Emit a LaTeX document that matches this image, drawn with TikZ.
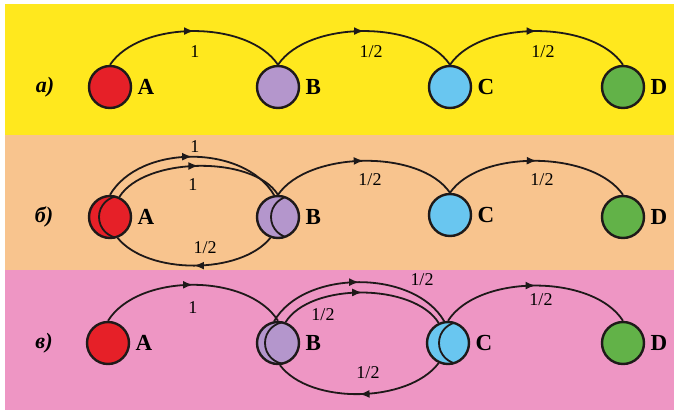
\documentclass[tikz,border=0pt]{standalone}
\usepackage{fontspec}
\setmainfont{Liberation Serif}
\usetikzlibrary{positioning, decorations.markings, arrows.meta}
\definecolor{bandyellow}{RGB}{255,232,30}
\definecolor{bandorange}{RGB}{248,196,142}
\definecolor{bandpink}{RGB}{238,150,196}
\definecolor{colA}{RGB}{230,32,40}
\definecolor{colB}{RGB}{180,150,204}
\definecolor{colC}{RGB}{105,198,240}
\definecolor{colD}{RGB}{98,178,72}
\definecolor{ink}{RGB}{30,25,25}

\begin{document}
\begin{tikzpicture}[x=0.5pt, y=-0.5pt,
    statenode/.style={circle, draw=ink, line width=1.2pt, minimum size=21pt, inner sep=0pt},
    letter/.style={font=\fontsize{11.5}{12}\selectfont\bfseries, inner sep=1pt},
    flow/.style={draw=ink, line width=0.9pt, postaction={decorate},
        decoration={markings, mark=at position 0.5 with {\arrow{Latex[length=5pt,width=4pt]}}}},
    prob/.style={font=\fontsize{9}{10}\selectfont, inner sep=1pt},
    rowlab/.style={font=\fontsize{11}{12}\selectfont\bfseries\itshape, inner sep=1pt}]
    \useasboundingbox (0,0) rectangle (677,414);
    % bands
    \fill[bandyellow] (5,4) rectangle (674,135);
    \fill[bandorange] (5,135) rectangle (674,270);
    \fill[bandpink] (5,270) rectangle (674,410);

    % row a
    \node[rowlab] (ra) at (45,87) {а)};
    \node[statenode, fill=colA] (A1) at (110,87) {};
    \node[statenode, fill=colB] (B1) at (278,87) {};
    \node[statenode, fill=colC] (C1) at (450,87) {};
    \node[statenode, fill=colD] (D1) at (623,87) {};
    \node[letter, right=1.5pt of A1] (lA1) {A};
    \node[letter, right=1.5pt of B1] (lB1) {B};
    \node[letter, right=1.5pt of C1] (lC1) {C};
    \node[letter, right=1.5pt of D1] (lD1) {D};
    \draw[flow] (A1.north) .. controls +(30,-45) and +(-30,-45) .. (B1.north);
    \draw[flow] (B1.north) .. controls +(30,-45) and +(-30,-45) .. (C1.north);
    \draw[flow] (C1.north) .. controls +(30,-45) and +(-30,-45) .. (D1.north);
    \node[prob] (p1) at (195,52) {1};
    \node[prob] (p2) at (371,52) {1/2};
    \node[prob] (p3) at (543,52) {1/2};

    % row b
    \node[rowlab] (rb) at (44,217) {б)};
    \node[statenode, fill=colA] (A2) at (110,217) {};
    \node[statenode, fill=colB] (B2) at (278,217) {};
    \node[statenode, fill=colC] (C2) at (450,215) {};
    \node[statenode, fill=colD] (D2) at (623,217) {};
    \node[letter, right=1.5pt of A2] (lA2) {A};
    \node[letter, right=1.5pt of B2] (lB2) {B};
    \node[letter, right=1.5pt of C2] (lC2) {C};
    \node[letter, right=1.5pt of D2] (lD2) {D};
    \begin{scope}
        \clip (A2.center) circle[radius=10.5pt];
        \draw[ink, line width=0.9pt] ([xshift=5pt]A2.center) circle[radius=10.5pt];
    \end{scope}
    \begin{scope}
        \clip (B2.center) circle[radius=10.5pt];
        \draw[ink, line width=0.9pt] ([xshift=7pt]B2.center) circle[radius=10.5pt];
    \end{scope}
    \draw[flow] (A2.north) .. controls +(30,-51) and +(-30,-51) .. (B2.100);
    \draw[flow] (A2.65) .. controls +(25,-40) and +(-25,-40) .. (B2.north);
    \draw[flow] (B2.250) .. controls +(-30,37) and +(30,37) .. (A2.290);
    \draw[flow] (B2.north) .. controls +(30,-44) and +(-30,-44) .. (C2.north);
    \draw[flow] (C2.north) .. controls +(30,-44) and +(-30,-44) .. (D2.north);
    \node[prob] (p4) at (195,147) {1};
    \node[prob] (p5) at (193,185) {1};
    \node[prob] (p6) at (205,248) {1/2};
    \node[prob] (p7) at (370,180) {1/2};
    \node[prob] (p8) at (542,180) {1/2};

    % row c
    \node[rowlab] (rc) at (44,343) {в)};
    \node[statenode, fill=colA] (A3) at (108,343) {};
    \node[statenode, fill=colB] (B3) at (278,343) {};
    \node[statenode, fill=colC] (C3) at (448,343) {};
    \node[statenode, fill=colD] (D3) at (623,343) {};
    \node[letter, right=1.5pt of A3] (lA3) {A};
    \node[letter, right=1.5pt of B3] (lB3) {B};
    \node[letter, right=1.5pt of C3] (lC3) {C};
    \node[letter, right=1.5pt of D3] (lD3) {D};
    \begin{scope}
        \clip (B3.center) circle[radius=10.5pt];
        \draw[ink, line width=0.9pt] ([xshift=4pt]B3.center) circle[radius=10.5pt];
    \end{scope}
    \begin{scope}
        \clip (C3.center) circle[radius=10.5pt];
        \draw[ink, line width=0.9pt] ([xshift=6pt]C3.center) circle[radius=10.5pt];
    \end{scope}
    \draw[flow] (A3.north) .. controls +(30,-48) and +(-30,-48) .. (B3.north);
    \draw[flow] (B3.100) .. controls +(30,-52) and +(-30,-52) .. (C3.100);
    \draw[flow] (B3.70) .. controls +(25,-40) and +(-25,-40) .. (C3.115);
    \draw[flow] (C3.245) .. controls +(-30,40) and +(30,40) .. (B3.275);
    \draw[flow] (C3.north) .. controls +(30,-47) and +(-30,-47) .. (D3.north);
    \node[prob] (p9) at (193,308) {1};
    \node[prob] (p10) at (422,280) {1/2};
    \node[prob] (p11) at (323,315) {1/2};
    \node[prob] (p12) at (368,373) {1/2};
    \node[prob] (p13) at (541,300) {1/2};
\end{tikzpicture}
\end{document}
